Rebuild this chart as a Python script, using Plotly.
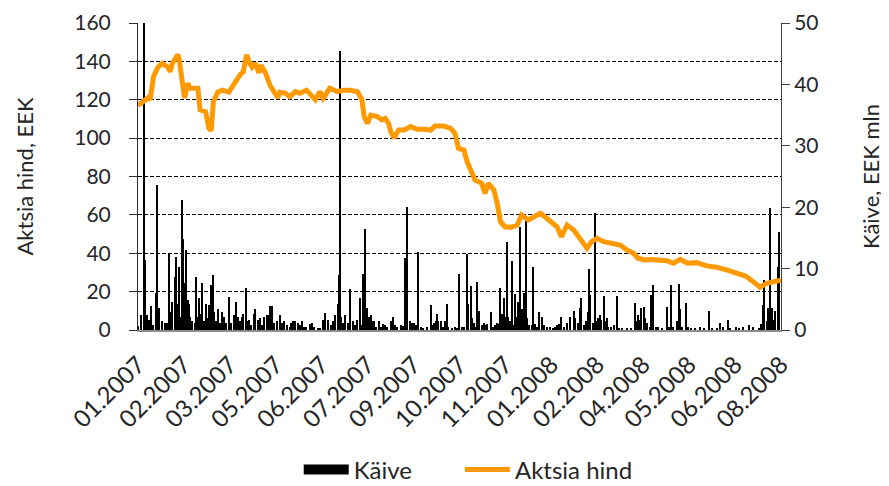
import pandas as pd
import plotly.graph_objects as go

# ---- data ----
tick_labels = ["01.2007", "02.2007", "03.2007", "05.2007", "06.2007", "07.2007", "09.2007",
               "10.2007", "11.2007", "01.2008", "02.2008", "04.2008", "05.2008", "06.2008", "08.2008"]
date_start = "2007-01-02"
date_end = "2008-08-04"

price_dates = [
    "2007-01-02", "2007-01-06", "2007-01-11", "2007-01-13", "2007-01-16", "2007-01-20", "2007-01-24",
    "2007-01-29", "2007-01-31", "2007-02-02", "2007-02-07", "2007-02-08", "2007-02-10", "2007-02-12",
    "2007-02-13", "2007-02-16", "2007-02-18", "2007-02-25", "2007-02-27", "2007-03-04", "2007-03-07",
    "2007-03-09", "2007-03-11", "2007-03-15", "2007-03-19", "2007-03-25", "2007-03-28", "2007-03-31",
    "2007-04-04", "2007-04-07", "2007-04-10", "2007-04-12", "2007-04-15", "2007-04-18", "2007-04-21",
    "2007-04-23", "2007-04-27", "2007-05-01", "2007-05-04", "2007-05-08", "2007-05-10", "2007-05-15",
    "2007-05-19", "2007-05-24", "2007-05-28", "2007-06-03", "2007-06-11", "2007-06-15", "2007-06-18",
    "2007-06-24", "2007-07-01", "2007-07-06", "2007-07-12", "2007-07-19", "2007-07-23", "2007-07-25",
    "2007-07-28", "2007-07-31", "2007-08-06", "2007-08-10", "2007-08-13", "2007-08-16", "2007-08-18",
    "2007-08-21", "2007-08-25", "2007-08-30", "2007-09-05", "2007-09-11", "2007-09-17", "2007-09-23",
    "2007-09-27", "2007-10-05", "2007-10-11", "2007-10-15", "2007-10-18", "2007-10-23", "2007-10-26",
    "2007-10-29", "2007-11-02", "2007-11-08", "2007-11-11", "2007-11-14", "2007-11-19", "2007-11-22",
    "2007-11-25", "2007-11-29", "2007-12-04", "2007-12-10", "2007-12-14", "2007-12-20", "2007-12-26",
    "2007-12-31", "2008-01-04", "2008-01-09", "2008-01-15", "2008-01-19", "2008-01-24", "2008-01-30",
    "2008-02-05", "2008-02-11", "2008-02-15", "2008-02-20", "2008-02-26", "2008-03-04", "2008-03-12",
    "2008-03-18", "2008-03-24", "2008-03-28", "2008-04-03", "2008-04-08", "2008-04-17", "2008-04-23",
    "2008-04-29", "2008-05-05", "2008-05-12", "2008-05-20", "2008-05-29", "2008-06-07", "2008-06-16",
    "2008-06-25", "2008-07-03", "2008-07-10", "2008-07-16", "2008-07-22", "2008-07-28", "2008-08-04",
]
price_values = [
    117, 119, 121, 120, 132, 137, 139,
    137, 134.6, 139, 143.5, 141.5, 132, 127,
    121, 128.6, 126, 126, 114.7, 113.8, 105,
    104, 119, 124, 125, 124, 127, 129.4,
    133, 134.6, 143.5, 140, 137, 139, 134,
    138, 134, 127.7, 125, 121, 124, 123.4,
    121.6, 124.2, 123.4, 125, 120, 124.2, 120.8,
    126, 124.2, 125, 125, 124.2, 120, 111.2,
    107.7, 112, 111.2, 109.5, 110.3, 107.7, 103.4,
    100, 104.2, 104.2, 106, 104.6, 104.6, 104.2,
    106.3, 106.3, 105.1, 102.5, 94.7, 93.8, 87.5,
    84, 78.2, 76.5, 71.2, 76.5, 73, 66,
    56.4, 53.8, 53.5, 54.7, 59.9, 57.3, 59,
    60.8, 59, 56.4, 53.8, 48.6, 54.7, 52.1,
    46.9, 42.6, 46, 47.8, 46, 45.2, 44.3,
    41.7, 40, 37.4, 36.5, 36.8, 36.1, 36.1,
    34.8, 36.8, 34.8, 35.1, 33.4, 32.7, 31.3,
    29.5, 28.1, 25.2, 22.3, 24.3, 25.2, 26,
]

volume_dates = [
    "2007-01-02", "2007-01-05", "2007-01-07", "2007-01-08", "2007-01-10", "2007-01-12", "2007-01-14",
    "2007-01-16", "2007-01-18", "2007-01-19", "2007-01-20", "2007-01-21", "2007-01-24", "2007-01-26",
    "2007-01-28", "2007-01-30", "2007-02-01", "2007-02-02", "2007-02-04", "2007-02-05", "2007-02-07",
    "2007-02-08", "2007-02-09", "2007-02-11", "2007-02-12", "2007-02-13", "2007-02-14", "2007-02-16",
    "2007-02-17", "2007-02-18", "2007-02-20", "2007-02-22", "2007-02-23", "2007-02-25", "2007-02-26",
    "2007-02-27", "2007-03-01", "2007-03-03", "2007-03-04", "2007-03-06", "2007-03-07", "2007-03-09",
    "2007-03-11", "2007-03-12", "2007-03-13", "2007-03-15", "2007-03-17", "2007-03-19", "2007-03-21",
    "2007-03-22", "2007-03-25", "2007-03-27", "2007-03-30", "2007-03-31", "2007-04-02", "2007-04-04",
    "2007-04-06", "2007-04-07", "2007-04-09", "2007-04-10", "2007-04-12", "2007-04-14", "2007-04-17",
    "2007-04-18", "2007-04-20", "2007-04-22", "2007-04-24", "2007-04-26", "2007-04-28", "2007-04-30",
    "2007-05-01", "2007-05-03", "2007-05-05", "2007-05-07", "2007-05-10", "2007-05-12", "2007-05-14",
    "2007-05-16", "2007-05-19", "2007-05-20", "2007-05-22", "2007-05-24", "2007-05-26", "2007-05-28",
    "2007-05-30", "2007-06-01", "2007-06-03", "2007-06-06", "2007-06-08", "2007-06-10", "2007-06-13",
    "2007-06-15", "2007-06-18", "2007-06-20", "2007-06-22", "2007-06-25", "2007-06-27", "2007-06-29",
    "2007-07-01", "2007-07-02", "2007-07-03", "2007-07-04", "2007-07-06", "2007-07-08", "2007-07-10",
    "2007-07-12", "2007-07-15", "2007-07-17", "2007-07-19", "2007-07-21", "2007-07-22", "2007-07-24",
    "2007-07-25", "2007-07-26", "2007-07-28", "2007-07-29", "2007-07-31", "2007-08-01", "2007-08-03",
    "2007-08-05", "2007-08-07", "2007-08-09", "2007-08-11", "2007-08-13", "2007-08-15", "2007-08-18",
    "2007-08-20", "2007-08-22", "2007-08-24", "2007-08-27", "2007-08-29", "2007-08-31", "2007-09-01",
    "2007-09-02", "2007-09-04", "2007-09-06", "2007-09-08", "2007-09-10", "2007-09-12", "2007-09-14",
    "2007-09-16", "2007-09-20", "2007-09-23", "2007-09-24", "2007-09-26", "2007-09-28", "2007-09-29",
    "2007-09-30", "2007-10-02", "2007-10-04", "2007-10-06", "2007-10-08", "2007-10-09", "2007-10-12",
    "2007-10-15", "2007-10-17", "2007-10-19", "2007-10-21", "2007-10-23", "2007-10-26", "2007-10-27",
    "2007-10-29", "2007-10-30", "2007-11-01", "2007-11-03", "2007-11-04", "2007-11-05", "2007-11-06",
    "2007-11-08", "2007-11-10", "2007-11-11", "2007-11-13", "2007-11-16", "2007-11-18", "2007-11-20",
    "2007-11-22", "2007-11-23", "2007-11-25", "2007-11-26", "2007-11-28", "2007-11-29", "2007-12-01",
    "2007-12-02", "2007-12-04", "2007-12-05", "2007-12-07", "2007-12-08", "2007-12-10", "2007-12-11",
    "2007-12-13", "2007-12-14", "2007-12-16", "2007-12-17", "2007-12-18", "2007-12-19", "2007-12-21",
    "2007-12-23", "2007-12-24", "2007-12-26", "2007-12-28", "2007-12-30", "2008-01-01", "2008-01-03",
    "2008-01-06", "2008-01-09", "2008-01-11", "2008-01-13", "2008-01-15", "2008-01-17", "2008-01-19",
    "2008-01-21", "2008-01-24", "2008-01-27", "2008-01-30", "2008-01-31", "2008-02-03", "2008-02-05",
    "2008-02-06", "2008-02-08", "2008-02-10", "2008-02-12", "2008-02-13", "2008-02-14", "2008-02-16",
    "2008-02-18", "2008-02-19", "2008-02-21", "2008-02-23", "2008-02-24", "2008-02-26", "2008-02-27",
    "2008-02-29", "2008-03-01", "2008-03-04", "2008-03-06", "2008-03-09", "2008-03-11", "2008-03-14",
    "2008-03-18", "2008-03-22", "2008-03-25", "2008-03-27", "2008-03-28", "2008-03-30", "2008-03-31",
    "2008-04-02", "2008-04-03", "2008-04-05", "2008-04-08", "2008-04-09", "2008-04-11", "2008-04-13",
    "2008-04-15", "2008-04-19", "2008-04-23", "2008-04-25", "2008-04-27", "2008-04-29", "2008-05-02",
    "2008-05-04", "2008-05-05", "2008-05-07", "2008-05-10", "2008-05-12", "2008-05-15", "2008-05-18",
    "2008-05-23", "2008-05-27", "2008-05-31", "2008-06-03", "2008-06-07", "2008-06-10", "2008-06-13",
    "2008-06-17", "2008-06-19", "2008-06-24", "2008-06-27", "2008-07-01", "2008-07-06", "2008-07-10",
    "2008-07-15", "2008-07-17", "2008-07-19", "2008-07-20", "2008-07-22", "2008-07-23", "2008-07-25",
    "2008-07-26", "2008-07-27", "2008-07-29", "2008-07-30", "2008-08-01", "2008-08-02",
]
volume_values = [
    0.6, 2.4, 52, 11.4, 2.4, 1.6, 3.9,
    0.8, 6.0, 23.6, 3.5, 3.6, 1.4, 1.1,
    1.1, 12.5, 2.9, 4.6, 8.7, 11.9, 4.3,
    10.3, 2.1, 21.1, 14.8, 7.6, 13.1, 4.9,
    4.3, 2.1, 1.4, 1.1, 8.6, 2.1, 5.2,
    2.6, 7.7, 1.4, 4.3, 1.9, 4.1, 7.3,
    9.0, 2.9, 1.4, 3.4, 1.1, 2.9, 2.1,
    1.1, 5.4, 1.1, 2.4, 4.6, 2.1, 1.4,
    2.1, 2.6, 6.8, 1.4, 1.6, 0.8, 2.6,
    3.4, 1.6, 1.9, 0.8, 2.1, 2.4, 2.4,
    3.9, 3.9, 1.1, 1.4, 2.4, 1.1, 1.4,
    0.8, 0.5, 1.1, 1.4, 1.4, 1.1, 0.8,
    1.4, 0.5, 0.5, 1.0, 1.1, 0.5, 0.3,
    0.3, 1.6, 2.8, 1.6, 0.8, 1.4, 2.4,
    4.3, 9.0, 45.4, 2.1, 1.1, 2.4, 1.1,
    6.6, 1.4, 0.8, 1.6, 5.2, 0.8, 9.1,
    9.0, 16.4, 3.6, 2.1, 2.4, 1.4, 1.4,
    0.5, 1.4, 0.5, 1.0, 0.8, 0.5, 1.4,
    2.1, 0.8, 0.5, 0.8, 0.7, 11.7, 5.7,
    20.0, 1.4, 1.2, 1.2, 0.8, 12.7, 0.5,
    0.3, 0.5, 4.1, 0.8, 1.1, 1.5, 2.6,
    1.4, 1.4, 0.5, 1.4, 4.2, 0.5, 0.3,
    0.5, 0.3, 9.1, 0.5, 0.5, 12.4, 4.3,
    7.1, 1.9, 1.1, 0.5, 7.8, 2.6, 3.1,
    0.8, 1.1, 0.8, 1.0, 2.9, 0.5, 0.8,
    1.1, 1.0, 6.8, 2.6, 5.2, 2.1, 14.4,
    2.1, 1.4, 11.3, 0.8, 5.9, 2.1, 4.6,
    16.8, 3.4, 6.1, 6.1, 17.9, 1.9, 0.8,
    0.8, 10.3, 1.0, 0.5, 2.9, 2.1, 0.8,
    0.5, 0.5, 0.3, 0.5, 0.8, 1.0, 2.1,
    0.5, 1.1, 2.1, 3.1, 1.9, 1.1, 3.6,
    5.2, 0.8, 1.4, 2.9, 9.9, 5.7, 1.1,
    19.1, 1.4, 1.9, 2.4, 1.6, 5.5, 1.4,
    1.9, 0.5, 0.5, 0.8, 5.5, 0.3, 0.3,
    0.3, 0.3, 4.4, 1.4, 2.4, 1.6, 3.6,
    3.7, 1.9, 1.1, 0.5, 5.7, 7.3, 0.5,
    0.5, 0.3, 3.7, 0.5, 7.3, 0.5, 1.4,
    7.5, 3.4, 0.5, 4.4, 0.5, 0.3, 0.3,
    0.5, 0.3, 3.1, 0.3, 0.3, 1.2, 0.5,
    1.6, 0.3, 0.5, 0.3, 0.5, 0.8, 0.5,
    0.3, 1.0, 4.1, 8.2, 1.4, 3.6, 19.8,
    1.4, 3.6, 1.6, 3.1, 10.3, 16.0,
]

# ---- figure ----
FONT = "Lato"
TXT = "#262626"
DAY_MS = 86400000
# page body has an 8px default margin, so the figure is 881x478 placed at (8, 8)
FIG_W, FIG_H = 881, 478

tickvals = pd.date_range(date_start, date_end, periods=len(tick_labels))

fig = go.Figure()
fig.add_trace(go.Bar(
    x=pd.to_datetime(volume_dates), y=volume_values, name="Käive",
    marker=dict(color="black", line=dict(width=0)),
    width=DAY_MS * 0.95, yaxis="y", showlegend=False,
))
# legend key for the volume bars (wide black block, as in the original)
fig.add_trace(go.Scatter(
    x=[None], y=[None], name="Käive", mode="lines",
    line=dict(color="black", width=16), yaxis="y", legend="legend",
))
fig.add_trace(go.Scatter(
    x=pd.to_datetime(price_dates), y=price_values, name="Aktsia hind",
    mode="lines", line=dict(color="#FF9900", width=5), yaxis="y2", legend="legend2",
))

legend_common = dict(orientation="h", xref="container", yref="container", y=0.0335,
                     yanchor="middle", xanchor="left", bgcolor="rgba(0,0,0,0)",
                     font=dict(size=24, color=TXT))

fig.update_layout(
    width=FIG_W, height=FIG_H,
    margin=dict(l=129.5, r=108, t=15, b=156, autoexpand=False),
    paper_bgcolor="white", plot_bgcolor="white",
    font=dict(family=FONT, color=TXT, size=21),
    showlegend=True,
    legend=dict(legend_common, x=0.33, itemwidth=45),
    legend2=dict(legend_common, x=0.513, itemwidth=45),
    bargap=0,
    xaxis=dict(
        type="date", range=[date_start, date_end], automargin=False,
        tickmode="array", tickvals=tickvals, ticktext=tick_labels,
        tickangle=-45, tickfont=dict(size=24, color=TXT), ticklabelstandoff=9,
        showgrid=False, zeroline=False,
        showline=True, linecolor="#8c8c8c", linewidth=2,
        ticks="",
    ),
    yaxis=dict(
        side="right", range=[0, 50], dtick=10, tick0=0, automargin=False,
        showgrid=False, zeroline=False,
        showline=True, linecolor="#404040", linewidth=1,
        ticks="outside", ticklen=8, tickcolor="#404040",
        tickfont=dict(size=21, color=TXT),
        title=dict(text="Käive, EEK mln", font=dict(size=22, color=TXT), standoff=46),
    ),
    yaxis2=dict(
        overlaying="y", side="left", range=[0, 160], dtick=20, tick0=0, automargin=False,
        showgrid=True, gridcolor="black", gridwidth=1, griddash="4px,2px",
        zeroline=False,
        showline=True, linecolor="#303030", linewidth=1,
        ticks="outside", ticklen=8, tickcolor="#303030",
        tickfont=dict(size=21, color=TXT), ticklabelstandoff=14,
        title=dict(text="Aktsia hind, EEK", font=dict(size=22, color=TXT), standoff=34),
    ),
)

fig.write_html("out.html")
